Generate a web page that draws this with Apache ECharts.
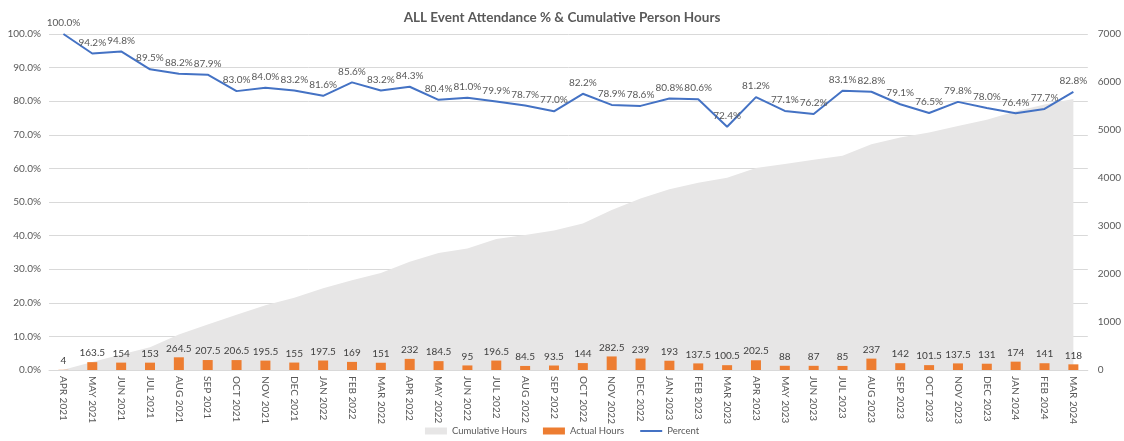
<!DOCTYPE html>
<html>
<head>
<meta charset="utf-8">
<script src="https://cdn.jsdelivr.net/npm/echarts@6/dist/echarts.min.js"></script>
<style>
html,body{margin:0;padding:0;background:#fff;}
#chart{width:1124px;height:441px;}
</style>
</head>
<body>
<div id="chart"></div>
<script>
const categories = ["APR 2021","MAY 2021","JUN 2021","JUL 2021","AUG 2021","SEP 2021","OCT 2021","NOV 2021","DEC 2021","JAN 2022","FEB 2022","MAR 2022",
  "APR 2022","MAY 2022","JUN 2022","JUL 2022","AUG 2022","SEP 2022","OCT 2022","NOV 2022","DEC 2022","JAN 2023","FEB 2023","MAR 2023",
  "APR 2023","MAY 2023","JUN 2023","JUL 2023","AUG 2023","SEP 2023","OCT 2023","NOV 2023","DEC 2023","JAN 2024","FEB 2024","MAR 2024"];
const actualHours = [4,163.5,154,153,264.5,207.5,206.5,195.5,155,197.5,169,151,
  232,184.5,95,196.5,84.5,93.5,144,282.5,239,193,137.5,100.5,
  202.5,88,87,85,237,142,101.5,137.5,131,174,141,118];
const cumulativeHours = [4,167.5,321.5,474.5,739,946.5,1153,1348.5,1503.5,1701,1870,2021,
  2253,2437.5,2532.5,2729,2813.5,2907,3051,3333.5,3572.5,3765.5,3903,4003.5,
  4206,4294,4381,4466,4703,4845,4946.5,5084,5215,5389,5530,5648];
const percent = [100.0,94.2,94.8,89.5,88.2,87.9,83.0,84.0,83.2,81.6,85.6,83.2,
  84.3,80.4,81.0,79.9,78.7,77.0,82.2,78.9,78.6,80.8,80.6,72.4,
  81.2,77.1,76.2,83.1,82.8,79.1,76.5,79.8,78.0,76.4,77.7,82.8];

const FONT = 'Lato';
const TXT = '#595959';
const chart = echarts.init(document.getElementById('chart'), null, {renderer:'canvas'});
chart.setOption({
  animation: false,
  backgroundColor: '#fff',
  textStyle: {fontFamily: FONT},
  title: {
    text: 'ALL Event Attendance % & Cumulative Person Hours',
    left: 'center', top: 6,
    textStyle: {fontFamily: FONT, fontSize: 13.5, fontWeight: 'bold', color: TXT}
  },
  legend: {
    bottom: 0, left: 'center',
    itemWidth: 22, itemHeight: 7, itemGap: 16,
    textStyle: {fontFamily: FONT, fontSize: 9.5, color: TXT},
    data: [
      {name: 'Cumulative Hours', icon: 'rect'},
      {name: 'Actual Hours', icon: 'rect'},
      {name: 'Percent', icon: 'path://M0,0L22,0L22,2L0,2Z'}
    ]
  },
  grid: {left: 49, right: 34, top: 34, bottom: 71, containLabel: false},
  xAxis: {
    type: 'category', data: categories, boundaryGap: true,
    axisTick: {show: false},
    axisLine: {lineStyle: {color: '#D9D9D9'}},
    axisLabel: {rotate: -90, fontSize: 10, color: TXT, margin: 6, interval: 0, fontFamily: FONT}
  },
  yAxis: [
    {
      type: 'value', min: 0, max: 100, interval: 10,
      axisLine: {show: false}, axisTick: {show: false},
      splitLine: {lineStyle: {color: '#D9D9D9'}},
      axisLabel: {fontSize: 10, color: TXT, margin: 8, formatter: v => v.toFixed(1) + '%'}
    },
    {
      type: 'value', min: 0, max: 7000, interval: 1000, position: 'right',
      axisLine: {show: false}, axisTick: {show: false},
      splitLine: {show: false},
      axisLabel: {fontSize: 10, color: TXT, margin: 10, formatter: v => String(v)}
    }
  ],
  series: [
    {
      name: 'Cumulative Hours', type: 'line', yAxisIndex: 1,
      data: cumulativeHours, symbol: 'none',
      lineStyle: {width: 0},
      itemStyle: {color: '#E7E6E6'},
      areaStyle: {color: '#E7E6E6', opacity: 1},
      z: 1
    },
    {
      name: 'Actual Hours', type: 'bar', yAxisIndex: 1,
      data: actualHours, barWidth: 10,
      itemStyle: {color: '#ED7D31'},
      label: {show: true, position: 'top', distance: 4, fontSize: 10, color: '#404040', fontFamily: FONT},
      z: 2
    },
    {
      name: 'Percent', type: 'line', yAxisIndex: 0,
      data: percent, symbol: 'circle', symbolSize: 0, showSymbol: true,
      lineStyle: {color: '#4472C4', width: 2},
      itemStyle: {color: '#4472C4'},
      label: {show: true, position: 'top', distance: 6, fontSize: 10, color: TXT, fontFamily: FONT,
        formatter: p => p.value.toFixed(1) + '%'},
      labelLayout: {hideOverlap: false},
      z: 3
    }
  ]
});
</script>
</body>
</html>
